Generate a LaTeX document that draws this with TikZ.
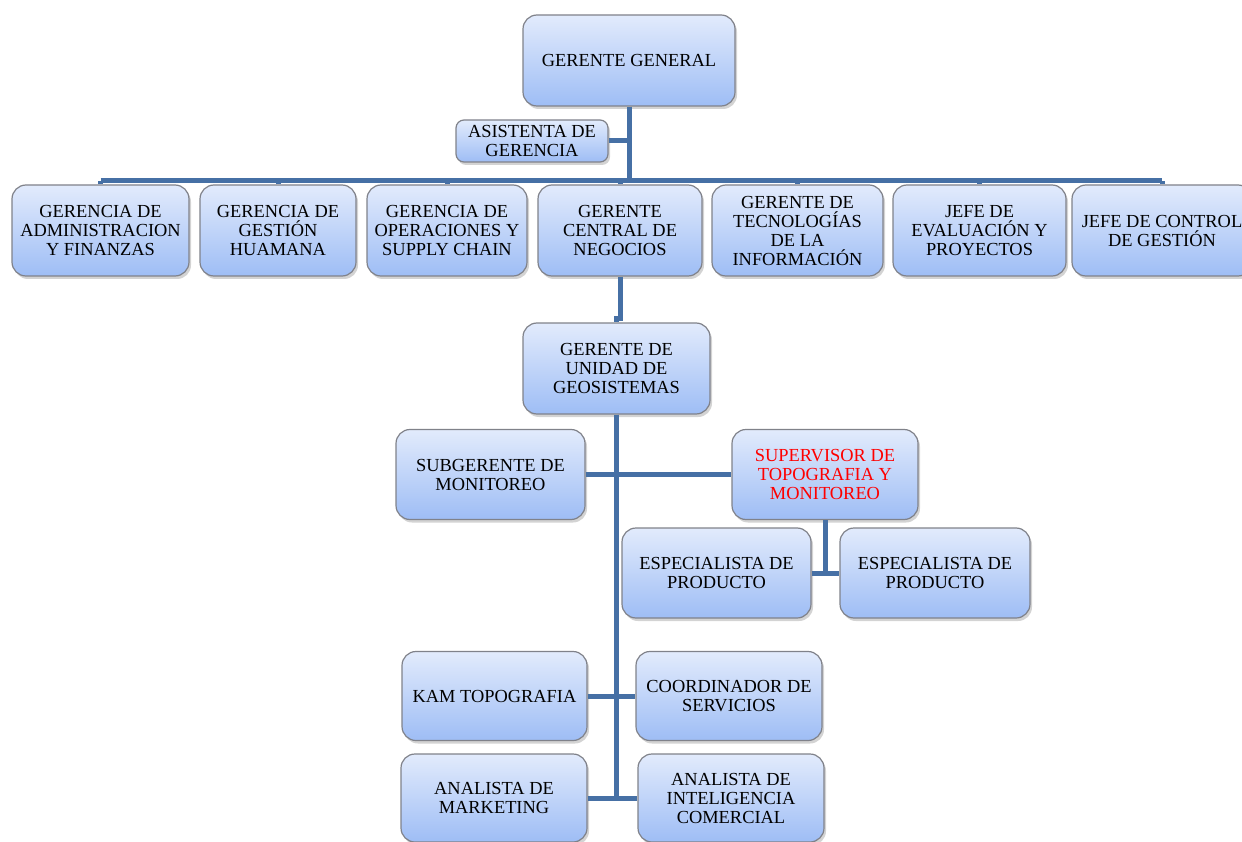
\documentclass[tikz,border=0pt]{standalone}
\usepackage{fontspec}
\setmainfont{Liberation Serif}
\usetikzlibrary{shadows}
\definecolor{linea}{RGB}{70,112,165}
\definecolor{cajaArriba}{RGB}{226,235,252}
\definecolor{cajaAbajo}{RGB}{158,189,245}
\definecolor{borde}{RGB}{128,130,138}
\tikzset{
  cargo/.style={draw=borde, line width=1.2pt, rounded corners=14pt,
    top color=cajaArriba, bottom color=cajaAbajo,
    drop shadow={shadow xshift=2pt, shadow yshift=-3pt, opacity=0.35},
    align=center, inner sep=2pt, minimum height=91pt,
    font=\fontsize{18.4}{19}\selectfont},
  enlace/.style={draw=linea, line width=5pt},
}

\begin{document}
\begin{tikzpicture}[x=1pt, y=-1pt]
	\useasboundingbox (0,0) rectangle (1242,842);
	% direccion
	\node[cargo, minimum width=212pt] (gg) at (629,60.5) {GERENTE GENERAL};
	\node[cargo, minimum width=152pt, minimum height=42pt, rounded corners=8pt] (asis) at (532,141) {ASISTENTA DE\\GERENCIA};
	% primera linea
	\node[cargo, minimum width=177pt] (adm) at (100.5,230.5) {GERENCIA DE\\ADMINISTRACION\\Y FINANZAS};
	\node[cargo, minimum width=156pt] (ges) at (278,230.5) {GERENCIA DE\\GESTIÓN\\HUAMANA};
	\node[cargo, minimum width=160pt] (ope) at (447,230.5) {GERENCIA DE\\OPERACIONES Y\\SUPPLY CHAIN};
	\node[cargo, minimum width=164pt] (gcn) at (620,230.5) {GERENTE\\CENTRAL DE\\NEGOCIOS};
	\node[cargo, minimum width=171pt] (tec) at (797.5,230.5) {GERENTE DE\\TECNOLOGÍAS\\DE LA\\INFORMACIÓN};
	\node[cargo, minimum width=173pt] (eva) at (979.5,230.5) {JEFE DE\\EVALUACIÓN Y\\PROYECTOS};
	\node[cargo, minimum width=180pt] (ctl) at (1162,230.5) {JEFE DE CONTROL\\DE GESTIÓN};
	% unidad de geosistemas
	\node[cargo, minimum width=187pt] (gug) at (616.5,368.5) {GERENTE DE\\UNIDAD DE\\GEOSISTEMAS};
	\node[cargo, minimum width=189pt, minimum height=90pt] (sub) at (490.5,474.5) {SUBGERENTE DE\\MONITOREO};
	\node[cargo, minimum width=186pt, minimum height=90pt, text=red] (sup) at (825,474.5) {SUPERVISOR DE\\TOPOGRAFIA Y\\MONITOREO};
	\node[cargo, minimum width=189pt, minimum height=90pt] (esp1) at (716.5,573) {ESPECIALISTA DE\\PRODUCTO};
	\node[cargo, minimum width=190pt, minimum height=90pt] (esp2) at (935,573) {ESPECIALISTA DE\\PRODUCTO};
	\node[cargo, minimum width=185pt, minimum height=89pt] (kam) at (494.5,696) {KAM TOPOGRAFIA};
	\node[cargo, minimum width=186pt, minimum height=89pt] (coo) at (729,696) {COORDINADOR DE\\SERVICIOS};
	\node[cargo, minimum width=186pt, minimum height=88pt] (mkt) at (494,798) {ANALISTA DE\\MARKETING};
	\node[cargo, minimum width=186pt, minimum height=88pt] (aic) at (731,798) {ANALISTA DE\\INTELIGENCIA\\COMERCIAL};
	% conectores
	\coordinate (barra) at (0,181);
	\draw[enlace] (gg.south) -- (gg.south |- barra);
	\draw[enlace] (asis.east) -- (asis.east -| gg.south);
	\draw[enlace] (adm.north |- barra) -- (ctl.north |- barra);
	\draw[enlace] (adm.north) -- (adm.north |- barra);
	\draw[enlace] (ges.north) -- (ges.north |- barra);
	\draw[enlace] (ope.north) -- (ope.north |- barra);
	\draw[enlace] (gcn.north) -- (gcn.north |- barra);
	\draw[enlace] (tec.north) -- (tec.north |- barra);
	\draw[enlace] (eva.north) -- (eva.north |- barra);
	\draw[enlace] (ctl.north) -- (ctl.north |- barra);
	\draw[enlace] (gcn.south) -- ++(0,42) -| (gug.north);
	\draw[enlace] (gug.south) -- (gug.south |- aic.west);
	\draw[enlace] (sub.east) -- (sup.west);
	\draw[enlace] (sup.south) -- (sup.south |- esp1.east);
	\draw[enlace] (esp1.east) -- (esp2.west);
	\draw[enlace] (kam.east) -- (coo.west);
	\draw[enlace] (mkt.east) -- (aic.west);
\end{tikzpicture}
\end{document}
